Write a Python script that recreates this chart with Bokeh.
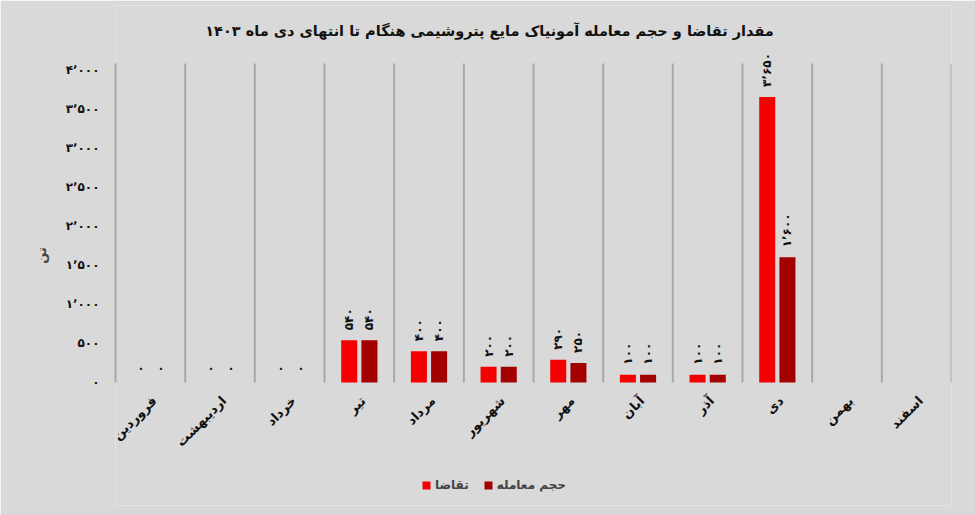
import math
from bokeh.plotting import figure
from bokeh.models import (FactorRange, Range1d, ColumnDataSource, Label,
                          Legend, LegendItem, FixedTicker)
from bokeh.transform import dodge
from bokeh.core.properties import value
from bokeh.embed import file_html
from bokeh.resources import INLINE

# ---- data ----
months = ["فروردین", "اردیبهشت", "خرداد", "تیر", "مرداد", "شهریور",
          "مهر", "آبان", "آذر", "دی", "بهمن", "اسفند"]
data_months = ["فروردین", "اردیبهشت", "خرداد", "تیر", "مرداد", "شهریور",
               "مهر", "آبان", "آذر", "دی"]
demand = [0, 0, 0, 540, 400, 200, 290, 100, 100, 3650]
trade = [0, 0, 0, 540, 400, 200, 250, 100, 100, 1600]
y_ticks = [0, 500, 1000, 1500, 2000, 2500, 3000, 3500, 4000]
y_tick_labels = ["۰", "۵۰۰", "۱٬۰۰۰", "۱٬۵۰۰", "۲٬۰۰۰", "۲٬۵۰۰", "۳٬۰۰۰", "۳٬۵۰۰", "۴٬۰۰۰"]
title_text = "مقدار تقاضا و حجم معامله آمونیاک مایع پتروشیمی هنگام تا انتهای دی ماه ۱۴۰۳"
series_names = ["تقاضا", "حجم معامله"]
y_label = "تن"

FONT = "DejaVu Sans"
BG = "#d9d9d9"
FA = str.maketrans("0123456789,", "۰۱۲۳۴۵۶۷۸۹٬")


def fa(n):
    return f"{n:,}".translate(FA)


# frame spans from the title area down to the legend; value 0 sits at ~y=382
Y_START, Y_END = -1572, 4818
GRID_TOP = 4077   # separators / axis line stop here

src = ColumnDataSource(dict(
    month=data_months, demand=demand, trade=trade,
    demand_lbl=[fa(v) for v in demand], trade_lbl=[fa(v) for v in trade],
))

p = figure(x_range=FactorRange(*months), y_range=Range1d(Y_START, Y_END),
           width=975, height=515, output_backend="svg", toolbar_location=None,
           min_border_left=115, min_border_right=24, min_border_top=5,
           min_border_bottom=10)
p.background_fill_color = BG
p.border_fill_color = BG
p.outline_line_color = None
p.xgrid.grid_line_color = None
p.ygrid.grid_line_color = None
p.xaxis.visible = False

# category separators
sep_src = ColumnDataSource(dict(m=months, y0=[0] * len(months), y1=[GRID_TOP] * len(months)))
p.segment(x0=dodge("m", 0.5, range=p.x_range), x1=dodge("m", 0.5, range=p.x_range),
          y0="y0", y1="y1", source=sep_src, line_color="#a9a9a9", line_width=2)

# month labels (category axis)
p.text(x="m", y="y0", text="m", source=sep_src, angle=math.pi / 4,
       text_align="right", text_baseline="middle", x_offset=4, y_offset=16,
       text_font=value(FONT), text_font_style="bold", text_font_size="13px",
       text_color="#111111")

r1 = p.vbar(x=dodge("month", -0.145, range=p.x_range), top="demand", width=0.23,
            source=src, fill_color="#f40000", line_color=None)
r2 = p.vbar(x=dodge("month", 0.145, range=p.x_range), top="trade", width=0.23,
            source=src, fill_color="#a30000", line_color=None)

for off, col, lbl in [(-0.145, "demand", "demand_lbl"), (0.145, "trade", "trade_lbl")]:
    p.text(x=dodge("month", off, range=p.x_range), y=col, text=lbl, source=src,
           angle=math.pi / 2, text_align="left", text_baseline="middle", y_offset=-10,
           text_font=value(FONT), text_font_style="bold", text_font_size="12px",
           text_color="#111111")

# y axis
p.yaxis.ticker = FixedTicker(ticks=y_ticks)
p.yaxis.bounds = (0, GRID_TOP)
p.yaxis.major_label_overrides = {t: l for t, l in zip(y_ticks, y_tick_labels)}
p.yaxis.axis_line_color = "#a9a9a9"
p.yaxis.axis_line_width = 2
p.yaxis.major_tick_line_color = None
p.yaxis.minor_tick_line_color = None
p.yaxis.major_label_standoff = 10
p.yaxis.major_label_text_font = FONT
p.yaxis.major_label_text_font_style = "bold"
p.yaxis.major_label_text_font_size = "12px"
p.yaxis.major_label_text_color = "#111111"
p.yaxis.axis_label = y_label
p.yaxis.axis_label_text_font = FONT
p.yaxis.axis_label_text_font_style = "bold"
p.yaxis.axis_label_text_font_size = "13px"
p.yaxis.axis_label_standoff = 14

# title (screen units relative to the frame's bottom-left)
p.add_layout(Label(x=374, y=475, x_units="screen", y_units="screen", text=title_text,
                   text_align="center", text_baseline="middle", text_font=FONT,
                   text_font_style="bold", text_font_size="14.5px", text_color="#111111"))

legend = Legend(items=[LegendItem(label=series_names[0], renderers=[r1]),
                       LegendItem(label=series_names[1], renderers=[r2])],
                orientation="horizontal", location=(306, 13),
                background_fill_alpha=0, border_line_color=None,
                label_text_font=FONT, label_text_font_style="bold",
                label_text_font_size="12px", glyph_width=10, glyph_height=10,
                spacing=14, padding=4, label_standoff=4)
p.add_layout(legend, "center")

open("out.html", "w").write(file_html(p, INLINE))
